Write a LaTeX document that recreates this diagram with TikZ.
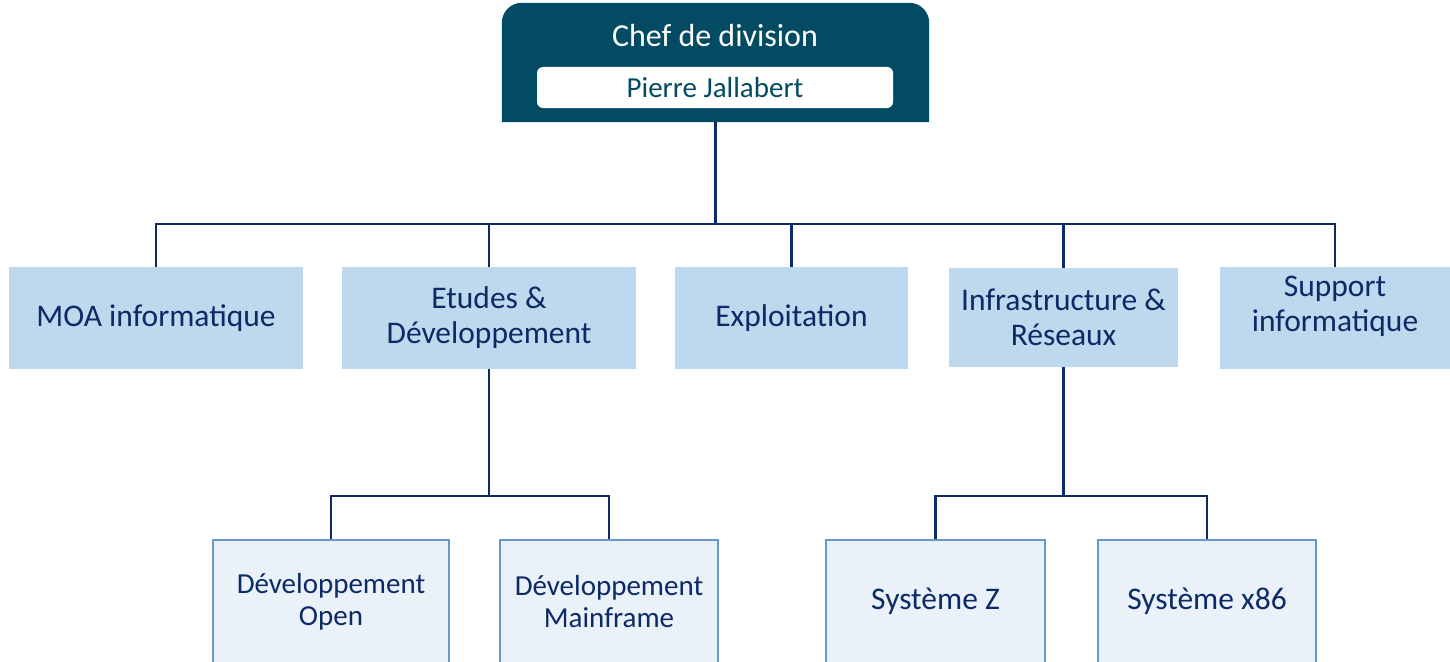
\documentclass[tikz,border=0pt]{standalone}
\usepackage{fontspec}
\setmainfont{Carlito}
\usepackage{tikz}

\definecolor{chefcol}{HTML}{034B63}
\definecolor{navy}{HTML}{0B2A66}
\definecolor{boxblue}{HTML}{BED8EE}
\definecolor{paleblue}{HTML}{EAF1F9}
\definecolor{edgeblue}{HTML}{6A97C9}

\tikzset{
  link/.style={draw=navy, line width=2.8pt},
  lvltwo/.style={rectangle, fill=boxblue, text=navy, align=center, inner sep=0pt,
    font=\fontsize{31.5}{35}\selectfont},
  lvlthree/.style={rectangle, fill=paleblue, draw=edgeblue, line width=2.4pt, text=navy,
    align=center, inner sep=0pt, minimum height=123pt, font=\fontsize{29}{32}\selectfont},
}

\begin{document}
\begin{tikzpicture}[x=1pt, y=-1pt]
			%%%%% START %%%%%
			\useasboundingbox (0, 0) rectangle (1450, 661);
			
			\node[rectangle, minimum width=427pt, minimum height=119pt, inner sep=0pt] (chef) at (715.5, 62.5) {};
			\fill[chefcol] (chef.south west) [rounded corners=20pt] -- (chef.north west) -- (chef.north east) [sharp corners] -- (chef.south east) -- cycle;
			\node[text=white, font=\fontsize{32}{36}\selectfont] (title) at (715, 36) {Chef de division};
			\node[rectangle, fill=white, rounded corners=6pt, minimum width=356pt, minimum height=41pt, inner sep=0pt,
			  text=chefcol, font=\fontsize{29}{32}\selectfont] (name) at (715, 87.5) {Pierre Jallabert};
			
			\node[lvltwo, minimum width=294pt, minimum height=102pt] (moa) at (156, 318) {MOA informatique};
			\node[lvltwo, minimum width=294pt, minimum height=102pt] (etudes) at (489, 318) {Etudes \&\\D\'eveloppement};
			\node[lvltwo, minimum width=233pt, minimum height=102pt] (exploit) at (791.5, 318) {Exploitation};
			\node[lvltwo, minimum width=229pt, minimum height=99pt] (infra) at (1063.5, 317.5) {Infrastructure \&\\R\'eseaux};
			\node[lvltwo, minimum width=230pt, minimum height=102pt] (support) at (1335, 318) {};
			\node[lvltwo, fill=none] (supporttext) at (1335, 306) {Support\\informatique};
			
			\node[lvlthree, minimum width=236pt] (devopen) at (331, 601.5) {D\'eveloppement\\Open};
			\node[lvlthree, minimum width=218pt] (devmain) at (609, 601.5) {D\'eveloppement\\Mainframe};
			\node[lvlthree, minimum width=219pt, font=\fontsize{31.5}{35}\selectfont] (sysz) at (935.5, 601.5) {Syst\`eme Z};
			\node[lvlthree, minimum width=218pt, font=\fontsize{31.5}{35}\selectfont] (sysx) at (1207, 601.5) {Syst\`eme x86};
			
			\coordinate (bus) at (715, 224);
			\coordinate (lowbus) at (0, 496);
			
			\foreach \n in {moa, etudes, exploit, infra, support}
			  \draw[link] (chef.south) -- (chef.south |- bus) -| (\n.north);
			
			\foreach \n in {devopen, devmain}
			  \draw[link] (etudes.south) -- (etudes.south |- lowbus) -| (\n.north);
			\foreach \n in {sysz, sysx}
			  \draw[link] (infra.south) -- (infra.south |- lowbus) -| (\n.north);
			%%%%% END %%%%%
\end{tikzpicture}
\end{document}
